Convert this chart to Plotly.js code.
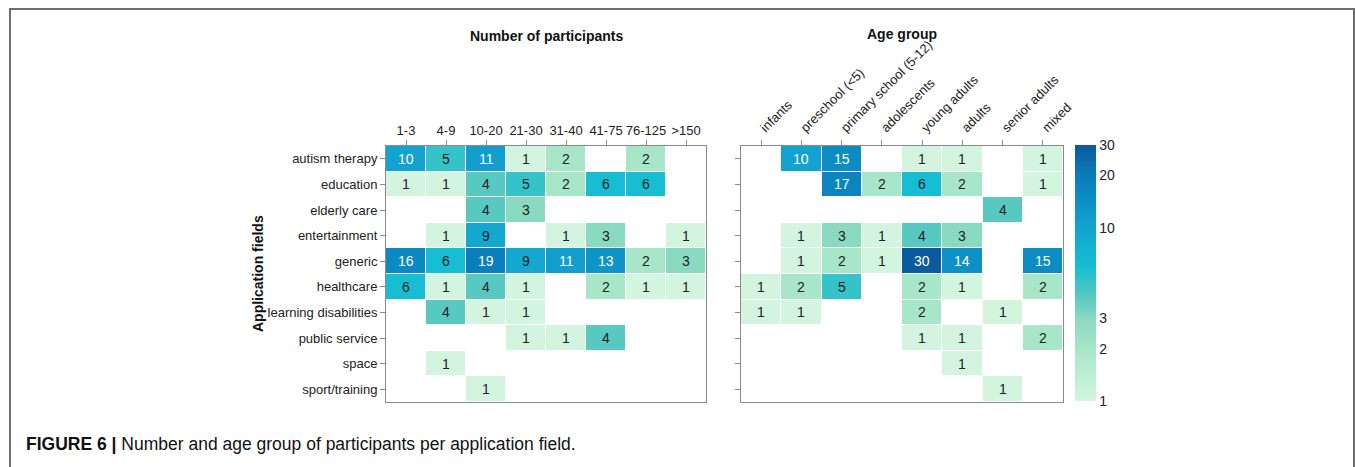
<!DOCTYPE html>
<html>
<head>
<meta charset="utf-8">
<script src="https://cdn.plot.ly/plotly-3.0.1.min.js"></script>
<style>
html,body{margin:0;padding:0;background:#fff;}
#wrap{position:relative;width:1355px;height:467px;overflow:hidden;}
#chart{position:absolute;left:0;top:0;width:1355px;height:467px;}
#frame{position:absolute;left:9px;top:8px;width:1342px;height:480px;border-left:2px solid #6f6f6f;border-top:2px solid #6f6f6f;border-right:2px solid #6f6f6f;pointer-events:none;}
</style>
</head>
<body>
<div id="wrap"><div id="chart"></div><div id="frame"></div></div>
<script>
const fields = ["autism therapy","education","elderly care","entertainment","generic","healthcare","learning disabilities","public service","space","sport/training"];
const sizeGroups = ["1-3","4-9","10-20","21-30","31-40","41-75","76-125",">150"];
const ageGroups = ["infants","preschool (<5)","primary school (5-12)","adolescents","young adults","adults","senior adults","mixed"];

const sizeCounts = [
  [10, 5, 11, 1, 2, null, 2, null],
  [1, 1, 4, 5, 2, 6, 6, null],
  [null, null, 4, 3, null, null, null, null],
  [null, 1, 9, null, 1, 3, null, 1],
  [16, 6, 19, 9, 11, 13, 2, 3],
  [6, 1, 4, 1, null, 2, 1, 1],
  [null, 4, 1, 1, null, null, null, null],
  [null, null, null, 1, 1, 4, null, null],
  [null, 1, null, null, null, null, null, null],
  [null, null, 1, null, null, null, null, null]
];
const ageCounts = [
  [null, 10, 15, null, 1, 1, null, 1],
  [null, null, 17, 2, 6, 2, null, 1],
  [null, null, null, null, null, null, 4, null],
  [null, 1, 3, 1, 4, 3, null, null],
  [null, 1, 2, 1, 30, 14, null, 15],
  [1, 2, 5, null, 2, 1, null, 2],
  [1, 1, null, null, 2, null, 1, null],
  [null, null, null, null, 1, 1, null, 2],
  [null, null, null, null, null, 1, null, null],
  [null, null, null, null, null, null, 1, null]
];
const cbTicks = [1, 2, 3, 10, 20, 30];

const W = 1355, H = 467;
const FONT = '"Liberation Sans", Arial, Helvetica, sans-serif';
const zmax = Math.log10(30);
const colorscale = [
  [0, '#d3f5df'], [0.204, '#a7e6c9'], [0.323, '#89dac1'], [0.408, '#58c9c1'],
  [0.473, '#33c3c9'], [0.527, '#16bdd3'], [0.677, '#13a3d0'], [0.80, '#0b8cc4'],
  [0.88, '#0a7cbb'], [1, '#0a5a9e']
];
const toLog = m => m.map(r => r.map(v => v == null ? null : Math.log10(v)));

const traces = [
  {type: 'heatmap', x: sizeGroups, y: fields, z: toLog(sizeCounts), xaxis: 'x', yaxis: 'y',
   colorscale, zmin: 0, zmax, xgap: 1, ygap: 1, showscale: false, hoverinfo: 'skip'},
  {type: 'heatmap', x: ageGroups, y: fields, z: toLog(ageCounts), xaxis: 'x2', yaxis: 'y2',
   colorscale, zmin: 0, zmax, xgap: 1, ygap: 1, hoverinfo: 'skip',
   colorbar: {x: 1075 / W, xanchor: 'left', y: 1 - 145 / H, yanchor: 'top',
     len: 256 / H, lenmode: 'fraction', thickness: 21, outlinewidth: 0,
     xpad: 0, ypad: 0, tickmode: 'array', tickvals: cbTicks.map(v => Math.log10(v)),
     ticktext: cbTicks.map(String), ticks: '', tickfont: {family: FONT, size: 14, color: '#222'}}}
];

const annotations = [];
function addCells(mat, cats, xref, yref) {
  mat.forEach((row, i) => row.forEach((v, j) => {
    if (v == null) return;
    annotations.push({x: cats[j], y: fields[i], xref, yref, text: String(v), showarrow: false,
      font: {family: FONT, size: 14, color: v >= 10 ? '#ffffff' : '#222222'}});
  }));
}
addCells(sizeCounts, sizeGroups, 'x', 'y');
addCells(ageCounts, ageGroups, 'x2', 'y2');

const px = v => v / W, py = v => 1 - v / H;
annotations.push(
  {xref: 'paper', yref: 'paper', x: px(546), y: py(36), xanchor: 'center', yanchor: 'middle',
   text: '<b>Number of participants</b>', showarrow: false, font: {family: FONT, size: 14, color: '#111'}},
  {xref: 'paper', yref: 'paper', x: px(902), y: py(34), xanchor: 'center', yanchor: 'middle',
   text: '<b>Age group</b>', showarrow: false, font: {family: FONT, size: 14, color: '#111'}},
  {xref: 'paper', yref: 'paper', x: px(258), y: py(274), xanchor: 'center', yanchor: 'middle',
   text: '<b>Application fields</b>', textangle: -90, showarrow: false, font: {family: FONT, size: 14, color: '#111'}},
  {xref: 'paper', yref: 'paper', x: px(24), y: py(444), xanchor: 'left', yanchor: 'middle', showarrow: false,
   text: '<b>FIGURE 6 |</b> Number and age group of participants per application field.',
   font: {family: FONT, size: 17.5, color: '#111'}}
);

const yTop = py(146), yBot = py(402);
const axisCommon = {showline: true, linecolor: '#8a8a8a', linewidth: 1, mirror: true,
  ticks: 'outside', ticklen: 5, tickcolor: '#8a8a8a', showgrid: false, zeroline: false, fixedrange: true,
  tickfont: {family: FONT, size: 13, color: '#222'}};

const layout = {
  width: W, height: H, paper_bgcolor: '#fff', plot_bgcolor: '#fff',
  margin: {l: 0, r: 0, t: 0, b: 0}, showlegend: false,
  xaxis: Object.assign({}, axisCommon, {domain: [px(386), px(706)], side: 'top', anchor: 'y', type: 'category'}),
  yaxis: Object.assign({}, axisCommon, {domain: [yBot, yTop], autorange: 'reversed', anchor: 'x', type: 'category'}),
  xaxis2: Object.assign({}, axisCommon, {domain: [px(741), px(1063)], side: 'top', anchor: 'y2', type: 'category', tickangle: -45}),
  yaxis2: Object.assign({}, axisCommon, {domain: [yBot, yTop], autorange: 'reversed', anchor: 'x2', type: 'category', showticklabels: false}),
  annotations
};

Plotly.newPlot('chart', traces, layout, {displayModeBar: false, staticPlot: true});
</script>
</body>
</html>
